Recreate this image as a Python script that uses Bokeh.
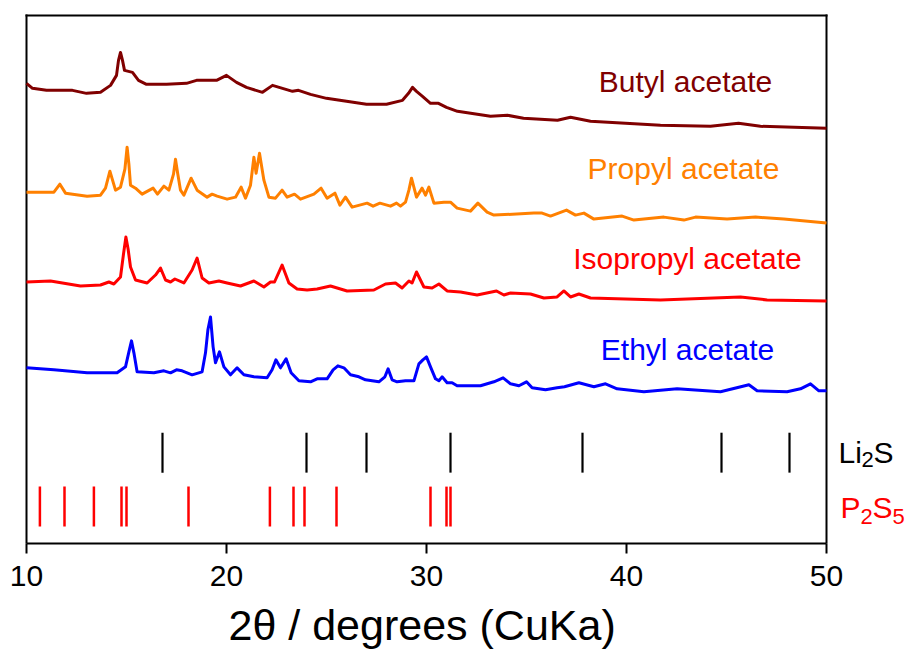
from bokeh.plotting import figure
from bokeh.models import Range1d, FixedTicker, Title
from bokeh.core.properties import value
from bokeh.embed import file_html
from bokeh.resources import INLINE

# ---------------- data (2theta in degrees, intensity in arbitrary units, offset stacked) -------------
BUTYL_2THETA = [10.0, 10.3, 11.0, 12.3, 13.0, 13.7, 14.2, 14.5, 14.6, 14.7, 14.8, 14.9, 15.3, 15.6, 16.0, 17.0,
                18.0, 18.5, 19.5, 20.0, 20.5, 21.0, 21.8, 22.3, 22.8, 23.3, 23.6, 24.2, 25.0, 26.0,
                27.0, 28.0, 28.8, 29.1, 29.3, 29.5, 29.8, 30.2, 30.6, 31.0, 31.55, 33.2, 34.05, 34.85, 36.55,
                37.2, 38.2, 41.7, 44.2, 45.6, 46.7, 50.0]
BUTYL_I = [461, 456, 454, 454, 451, 452, 459, 469, 484, 492, 484, 474, 472, 464, 460, 460,
           461, 464, 464, 469, 462, 457, 452, 459, 456, 453, 454, 450, 446, 443,
           440, 440, 444, 451, 457, 453, 448, 441, 441, 437, 433, 428, 429, 426, 424,
           427, 423, 419, 418, 421, 418, 416]

PROPYL_2THETA = [10.0, 11.37, 11.67, 11.95, 13.03, 13.7, 13.95, 14.17, 14.45, 14.7, 14.92, 15.03, 15.12, 15.2,
                 15.45, 15.78, 16.33, 16.55, 16.87, 17.12, 17.35, 17.45, 17.55, 17.7, 17.87, 18.23, 18.53, 19.03,
                 19.28, 19.53, 20.03, 20.45, 20.73, 20.95, 21.2, 21.37, 21.48, 21.65, 21.87, 22.12,
                 22.45, 22.78, 23.03, 23.4, 23.7, 24.37, 24.73, 25.03, 25.42, 25.67, 25.95, 26.28,
                 27.03, 27.33, 27.67, 28.2, 28.5, 28.7, 28.95, 29.12, 29.25, 29.5, 29.78, 29.95,
                 30.12, 30.37, 30.87, 31.2, 31.53, 32.2, 32.57, 33.03, 33.37, 35.37, 35.78, 36.2,
                 37.0, 37.45, 37.87, 38.37, 39.78, 40.37, 41.87, 42.87, 43.45, 45.03, 46.45, 47.87,
                 50.0]
PROPYL_I = [352, 352, 360, 351, 348, 349, 356, 373, 354, 357, 375, 397, 380, 359,
            356, 350, 356, 350, 358, 354, 370, 385, 372, 354, 349, 366, 354, 347,
            350, 348, 345, 347, 357, 346, 359, 387, 371, 391, 364, 347,
            346, 354, 347, 350, 345, 350, 356, 346, 351, 339, 347, 337,
            341, 338, 341, 338, 341, 338, 342, 354, 366, 347, 356, 349,
            357, 341, 342, 342, 336, 333, 341, 332, 329, 331, 331, 328,
            334, 329, 331, 325, 328, 324, 327, 324, 327, 325, 327, 325,
            321]

ISOPROPYL_2THETA = [10.0, 11.2, 12.7, 13.7, 14.12, 14.37, 14.7, 14.85, 14.97, 15.08, 15.2, 15.45, 16.03, 16.45,
                    16.7, 16.95, 17.2, 17.42, 17.87, 18.28, 18.53, 18.78, 19.12, 19.62, 20.03, 20.7,
                    21.37, 21.87, 22.2, 22.4, 22.78, 23.12, 23.53, 24.03, 24.53, 25.2, 26.03, 27.37,
                    27.95, 28.45, 28.78, 29.12, 29.28, 29.5, 29.87, 30.28, 30.62, 31.03, 31.7, 32.53,
                    33.5, 33.87, 34.2, 35.2, 35.87, 36.53, 36.87, 37.2, 37.62, 38.2, 41.7, 45.7,
                    47.03, 50.0]
ISOPROPYL_I = [262, 263, 258, 259, 262, 260, 267, 290, 307, 295, 277, 264, 261, 269,
               276, 264, 262, 265, 261, 274, 286, 266, 261, 263, 261, 258,
               263, 257, 262, 262, 279, 261, 255, 254, 255, 258, 253, 254,
               260, 261, 256, 263, 261, 272, 257, 256, 260, 253, 252, 249,
               253, 249, 251, 250, 246, 247, 253, 247, 250, 246, 244, 247,
               244, 243]

ETHYL_2THETA = [10.0, 11.37, 13.03, 14.53, 14.95, 15.12, 15.25, 15.37, 15.53, 16.37, 16.87, 17.2,
                17.5, 17.78, 18.28, 18.78, 18.95, 19.07, 19.2, 19.33, 19.45, 19.65, 19.87, 20.2,
                20.53, 20.87, 21.37, 22.03, 22.28, 22.47, 22.7, 22.98, 23.23, 23.62, 24.2, 24.53,
                25.03, 25.33, 25.57, 25.87, 26.2, 26.62, 26.95, 27.62, 27.92, 28.08, 28.28, 28.53,
                28.95, 29.37, 29.62, 29.82, 30.0, 30.2, 30.45, 30.62, 30.78, 31.03, 31.28, 31.53,
                32.7, 33.37, 33.83, 34.2, 34.62, 35.0, 35.28, 35.95, 36.53, 36.9, 37.62, 38.37,
                38.95, 39.53, 40.87, 42.53, 44.7, 46.12, 46.53, 48.03, 48.7, 49.2, 49.62, 50.0]
ETHYL_I = [176, 174, 171, 171, 177, 192, 203, 191, 172, 171, 173, 171,
           174, 173, 169, 172, 191, 214, 227, 197, 181, 192, 177, 169,
           176, 169, 167, 166, 174, 184, 176, 185, 171, 163, 162, 165,
           165, 174, 178, 176, 169, 167, 164, 162, 167, 175, 164, 162,
           163, 163, 180, 184, 187, 177, 165, 163, 167, 161, 161, 158,
           158, 162, 166, 160, 158, 162, 156, 154, 156, 157, 161, 157,
           160, 155, 152, 155, 152, 159, 153, 152, 155, 160, 153, 153]

LI2S_REF = [16.8, 24.0, 27.0, 31.2, 37.8, 44.75, 48.15]
P2S5_REF = [10.67, 11.9, 13.37, 14.75, 15.0, 18.1, 22.17, 23.35, 23.9, 25.5, 30.2, 31.0, 31.2]

SERIES_NAMES = ["Butyl acetate", "Propyl acetate", "Isopropyl acetate", "Ethyl acetate"]
X_TICKS = [10, 20, 30, 40, 50]
X_MIN, X_MAX = 10, 50
Y_TOP = 533
X_TITLE = "2θ / degrees (CuKa)"

# ---------------- styling -------------
FONT = "Liberation Sans"
COLORS = ["#800000", "#FF8000", "#FF0000", "#0000FF"]
LABEL_POS = [(42.95, 463), (42.85, 376), (43.05, 286), (43.05, 194)]
LI2S_Y = (71, 111)
P2S5_Y = (17, 57)

# frame extends to the right edge so the phase labels can sit outside the 10-50 box
p = figure(width=907, height=659, x_range=Range1d(9.8, 54.05), y_range=Range1d(0, Y_TOP),
           output_backend="svg", toolbar_location=None, y_axis_location=None,
           min_border_left=22, min_border_right=0, min_border_top=11, min_border_bottom=115)
p.grid.visible = False
p.outline_line_color = None
p.background_fill_color = "white"
p.border_fill_color = "white"

# box (left, top, right) of the 10-50 data area
p.segment(x0=[X_MIN, X_MIN, X_MAX], y0=[0, 529, 0], x1=[X_MIN, X_MAX, X_MAX], y1=[529, 529, 529],
          line_color="black", line_width=2, line_cap="square")

series = [(BUTYL_2THETA, BUTYL_I), (PROPYL_2THETA, PROPYL_I),
          (ISOPROPYL_2THETA, ISOPROPYL_I), (ETHYL_2THETA, ETHYL_I)]
for (xs, ys), c in zip(series, COLORS):
    p.line(xs, ys, line_color=c, line_width=3, line_join="round")

for name, c, (lx, ly) in zip(SERIES_NAMES, COLORS, LABEL_POS):
    p.text(x=[lx], y=[ly], text=[name], text_color=c, text_font=value(FONT),
           text_font_size="30px", text_align="center", text_baseline="middle")

p.segment(x0=LI2S_REF, y0=[LI2S_Y[0]] * len(LI2S_REF), x1=LI2S_REF, y1=[LI2S_Y[1]] * len(LI2S_REF),
          line_color="black", line_width=2.2)
p.segment(x0=P2S5_REF, y0=[P2S5_Y[0]] * len(P2S5_REF), x1=P2S5_REF, y1=[P2S5_Y[1]] * len(P2S5_REF),
          line_color="#FF0000", line_width=2.5)

# phase labels with subscripts
for txt, x, y, size, col in [("Li", 50.6, 91.5, "30px", "black"), ("2", 51.75, 84, "22px", "black"),
                             ("S", 52.35, 91.5, "30px", "black"),
                             ("P", 50.7, 36.5, "30px", "#FF0000"), ("2", 51.7, 27, "22px", "#FF0000"),
                             ("S", 52.3, 36.5, "30px", "#FF0000"), ("5", 53.3, 27, "22px", "#FF0000")]:
    p.text(x=[x], y=[y], text=[txt], text_color=col, text_font=value(FONT), text_font_size=size,
           text_align="left", text_baseline="middle")

ax = p.xaxis[0]
ax.ticker = FixedTicker(ticks=X_TICKS)
ax.bounds = (X_MIN, X_MAX)
ax.axis_line_width = 2
ax.major_tick_line_width = 2
ax.major_tick_out = 10
ax.major_tick_in = 0
ax.minor_tick_line_color = None
ax.major_label_text_font = FONT
ax.major_label_text_font_size = "30px"
ax.major_label_text_color = "black"
ax.major_label_standoff = 12

# axis title centred under the 10-50 box
p.add_layout(Title(text=X_TITLE, align="left", offset=206, standoff=21,
                   text_font=FONT, text_font_size="43px", text_font_style="normal",
                   text_color="black"), "below")

open("out.html", "w").write(file_html(p, INLINE))
